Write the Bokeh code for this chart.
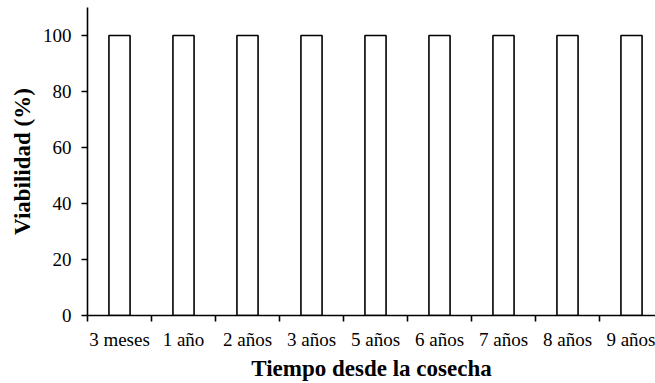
from bokeh.plotting import figure
from bokeh.models import Range1d, FixedTicker
from bokeh.embed import file_html
from bokeh.resources import INLINE

categories = ["3 meses", "1 año", "2 años", "3 años", "5 años", "6 años", "7 años", "8 años", "9 años"]
viabilidad = [100, 100, 100, 100, 100, 100, 100, 100, 100]
y_ticks = [0, 20, 40, 60, 80, 100]

centers = [i + 0.5 for i in range(len(categories))]
bounds = list(range(len(categories) + 1))

FONT = "Liberation Serif"

p = figure(width=655, height=383, output_backend="svg", toolbar_location=None,
           x_range=Range1d(0, 8.875), y_range=Range1d(0, 110),
           min_border_left=87, min_border_right=0, min_border_top=7, min_border_bottom=66)
p.outline_line_color = None
p.xgrid.grid_line_color = None
p.ygrid.grid_line_color = None
p.background_fill_color = "white"

p.vbar(x=centers, top=viabilidad, width=0.33, bottom=0,
       fill_color="white", line_color="black", line_width=1.6)

xa = p.xaxis[0]
xa.ticker = FixedTicker(ticks=centers, minor_ticks=bounds)
xa.major_label_overrides = {c: lab for c, lab in zip(centers, categories)}
xa.major_tick_out = 0
xa.major_tick_in = 0
xa.minor_tick_out = 6
xa.minor_tick_in = 0
xa.minor_tick_line_color = "black"
xa.minor_tick_line_width = 1.6
xa.axis_line_color = "black"
xa.axis_line_width = 1.6
xa.major_label_text_font = FONT
xa.major_label_text_font_size = "19px"
xa.major_label_text_color = "black"
xa.major_label_standoff = 7
xa.axis_label = "Tiempo desde la cosecha"
xa.axis_label_text_font = FONT
xa.axis_label_text_font_size = "23px"
xa.axis_label_text_font_style = "bold"
xa.axis_label_text_color = "black"
xa.axis_label_standoff = 3

ya = p.yaxis[0]
ya.ticker = FixedTicker(ticks=y_ticks)
ya.major_tick_out = 6
ya.major_tick_in = 0
ya.minor_tick_out = 0
ya.minor_tick_in = 0
ya.major_tick_line_color = "black"
ya.major_tick_line_width = 1.6
ya.axis_line_color = "black"
ya.axis_line_width = 1.6
ya.major_label_text_font = FONT
ya.major_label_text_font_size = "19px"
ya.major_label_text_color = "black"
ya.major_label_standoff = 10
ya.axis_label = "Viabilidad (%)"
ya.axis_label_text_font = FONT
ya.axis_label_text_font_size = "23px"
ya.axis_label_text_font_style = "bold"
ya.axis_label_text_color = "black"
ya.axis_label_standoff = 5

open("out.html", "w").write(file_html(p, INLINE))
